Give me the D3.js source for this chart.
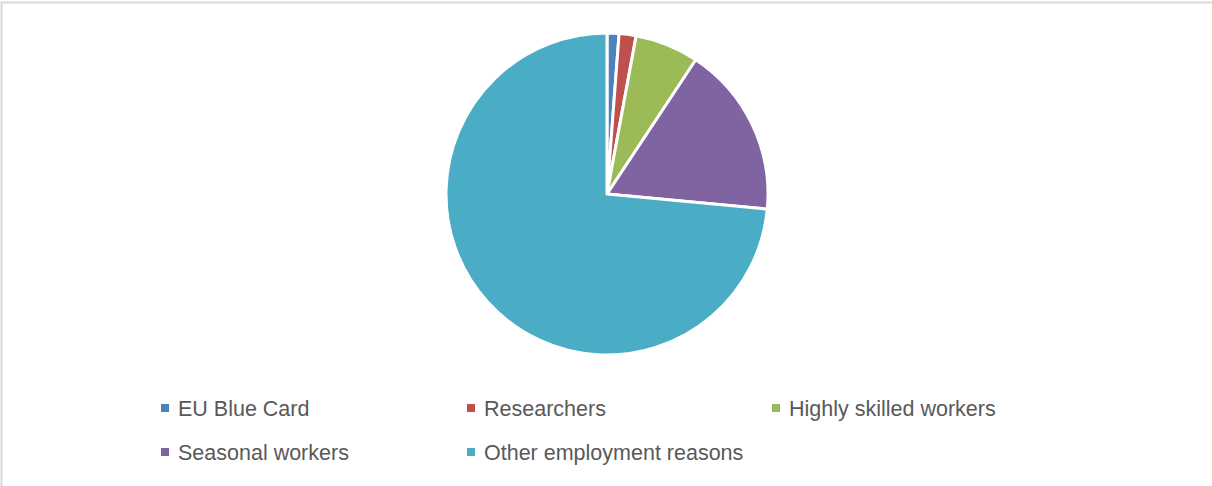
<!DOCTYPE html>
<html>
<head>
<meta charset="utf-8">
<script src="https://cdn.jsdelivr.net/npm/d3@7"></script>
<style>
  body { margin: 0; background: #fff; }
  svg { display: block; }
</style>
</head>
<body>
<svg id="chart" width="1212" height="486"></svg>
<script>
// slice categories and their shares (%)
var categories = ['EU Blue Card', 'Researchers', 'Highly skilled workers', 'Seasonal workers', 'Other employment reasons'];
var shares = [1.2, 1.7, 6.4, 17.2, 73.5];
var colors = ['#4F81BD', '#C0504D', '#9BBB59', '#8064A2', '#4BACC6'];

var width = 1212, height = 486;
var cx = 607, cy = 194, radius = 161;

var svg = d3.select('#chart');

// light grey frame, only top and left visible in the crop
svg.append('path')
    .attr('d', 'M1.5,486 L1.5,2.5 L1212,2.5')
    .attr('fill', 'none')
    .attr('stroke', '#d9d9d9')
    .attr('stroke-width', 2);

var data = categories.map((c, i) => ({ key: c, value: shares[i] }));

var pie = d3.pie()
    .value(d => d.value)
    .sort(null);

var arc = d3.arc()
    .innerRadius(0)
    .outerRadius(radius);

var color = d3.scaleOrdinal()
    .domain(categories)
    .range(colors);

var g = svg.append('g')
    .attr('transform', 'translate(' + cx + ',' + cy + ')');

g.selectAll('.slice')
    .data(pie(data))
    .enter().append('path')
    .attr('class', 'slice')
    .attr('d', arc)
    .attr('fill', d => color(d.data.key))
    .attr('stroke', '#fff')
    .attr('stroke-width', 3)
    .attr('stroke-linejoin', 'round');

// legend: 3 columns, 2 rows
var colX = [161, 467, 772];
var rowY = [408, 452];

var legend = svg.selectAll('.legend')
    .data(data)
    .enter().append('g')
    .attr('class', 'legend')
    .attr('transform', (d, i) => 'translate(' + colX[i % 3] + ',' + rowY[Math.floor(i / 3)] + ')');

legend.append('rect')
    .attr('x', 0)
    .attr('y', -4)
    .attr('width', 8)
    .attr('height', 8)
    .attr('fill', d => color(d.key));

legend.append('text')
    .attr('x', 17)
    .attr('y', 0)
    .attr('dy', '0.35em')
    .attr('fill', '#595959')
    .style('font-family', '"Liberation Sans", Arial, sans-serif')
    .style('font-size', '21.5px')
    .text(d => d.key);
</script>
</body>
</html>
